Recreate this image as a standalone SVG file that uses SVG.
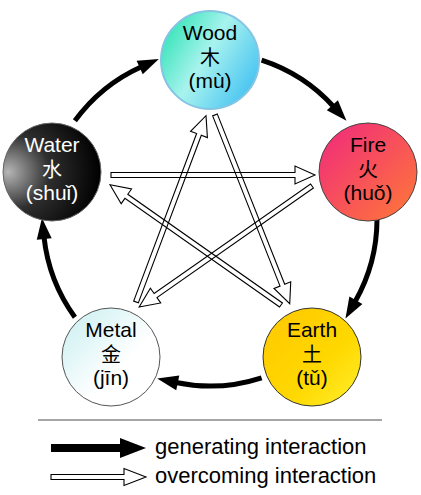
<svg xmlns="http://www.w3.org/2000/svg" width="421" height="495" viewBox="0 0 421 495">
<style>
.lbl{font-family:"Liberation Sans",Arial,"Noto Sans CJK SC",sans-serif;font-size:21px;text-anchor:middle;fill:#000}
.cjk{font-family:"Noto Sans CJK SC","Liberation Sans",sans-serif;font-size:20px;text-anchor:middle;fill:#000}
.wt{fill:#fff}
.gen{fill:none;stroke:#000;stroke-width:5;marker-end:url(#ah)}
.ovc{fill:none;stroke:#000;stroke-width:1.1;stroke-linejoin:miter}
.leg{font-family:"Liberation Sans",Arial,sans-serif;font-size:22px;fill:#000}
</style>
<defs>
<marker id="ah" markerUnits="userSpaceOnUse" markerWidth="21" markerHeight="15" viewBox="0 0 21 15" refX="2" refY="7.5" orient="auto" overflow="visible">
<path d="M0,0 L21,7.5 L0,15 z" fill="#000"/>
</marker>
<linearGradient id="gWood" x1="0" y1="0.2" x2="1" y2="0.8">
<stop offset="0" stop-color="#2fe3b5"/>
<stop offset="0.45" stop-color="#a8f3ee"/>
<stop offset="1" stop-color="#3fbff2"/>
</linearGradient>
<linearGradient id="gFire" x1="0" y1="0" x2="1" y2="1">
<stop offset="0" stop-color="#f0287e"/>
<stop offset="1" stop-color="#ff7a36"/>
</linearGradient>
<radialGradient id="gWater" cx="0.15" cy="0.5" r="0.85" fx="0.05" fy="0.5">
<stop offset="0" stop-color="#b5b5b5"/>
<stop offset="0.45" stop-color="#2e2e2e"/>
<stop offset="1" stop-color="#000"/>
</radialGradient>
<linearGradient id="gMetal" x1="0" y1="0" x2="1" y2="1">
<stop offset="0" stop-color="#c6eef0"/>
<stop offset="0.6" stop-color="#ffffff"/>
<stop offset="1" stop-color="#ffffff"/>
</linearGradient>
<linearGradient id="gEarth" x1="0" y1="0" x2="1" y2="1">
<stop offset="0" stop-color="#ffc800"/>
<stop offset="0.6" stop-color="#ffd800"/>
<stop offset="1" stop-color="#fff030"/>
</linearGradient>
</defs>

<g id="connectors">
<g id="generating">
<path class="gen" d="M261.6,60.2 A167,167 0 0 1 333.7,106.8"/>
<path class="gen" d="M377,219 A167,167 0 0 1 354.9,302"/>
<path class="gen" d="M261.6,377.8 A167,167 0 0 1 175.8,382.5"/>
<path class="gen" d="M74.9,317.2 A167,167 0 0 1 44,237"/>
<path class="gen" d="M74.9,120.8 A167,167 0 0 1 141.5,66.7"/>
</g>
<g id="overcoming">
<path class="ovc" transform="translate(111,175)" d="M0,-2.5 H184 V-9 L204,0 L184,9 V2.5 H0 Z"/>
<path class="ovc" transform="translate(312,186) rotate(145)" d="M0,-2.5 H191 V-9 L211,0 L191,9 V2.5 H0 Z"/>
<path class="ovc" transform="translate(136,302) rotate(-69.4)" d="M0,-2.5 H179 V-9 L199,0 L179,9 V2.5 H0 Z"/>
<path class="ovc" transform="translate(215,115) rotate(68.4)" d="M0,-2.5 H183 V-9 L203,0 L183,9 V2.5 H0 Z"/>
<path class="ovc" transform="translate(281,305) rotate(-144.9)" d="M0,-2.5 H189 V-9 L209,0 L189,9 V2.5 H0 Z"/>
</g>
</g>

<g id="wood">
<circle cx="210" cy="60" r="49" fill="url(#gWood)" stroke="#86c4e4" stroke-width="2"/>
<text class="lbl" x="210" y="40">Wood</text>
<text class="cjk" x="210" y="65">木</text>
<text class="lbl" x="210" y="88">(mù)</text>
</g>
<g id="fire">
<circle cx="368" cy="172" r="49" fill="url(#gFire)" stroke="#444" stroke-width="1"/>
<text class="lbl" x="368" y="152">Fire</text>
<text class="cjk" x="368" y="177">火</text>
<text class="lbl" x="368" y="200">(huǒ)</text>
</g>
<g id="earth">
<circle cx="312" cy="357" r="49" fill="url(#gEarth)" stroke="#333" stroke-width="1"/>
<text class="lbl" x="312" y="337">Earth</text>
<text class="cjk" x="312" y="362">土</text>
<text class="lbl" x="312" y="385">(tǔ)</text>
</g>
<g id="metal">
<circle cx="111" cy="357" r="49" fill="url(#gMetal)" stroke="#555" stroke-width="1"/>
<text class="lbl" x="111" y="337">Metal</text>
<text class="cjk" x="111" y="362">金</text>
<text class="lbl" x="111" y="385">(jīn)</text>
</g>
<g id="water">
<circle cx="52" cy="172" r="49" fill="url(#gWater)" stroke="#666" stroke-width="1"/>
<text class="lbl wt" x="52" y="152">Water</text>
<text class="cjk wt" x="52" y="177">水</text>
<text class="lbl wt" x="52" y="200">(shuǐ)</text>
</g>

<g id="legend">
<line x1="38" y1="420" x2="382" y2="420" stroke="#888" stroke-width="1.5"/>
<rect x="51" y="444" width="72" height="8" fill="#000"/>
<path d="M120,438 L146,448 L120,458 Z" fill="#000"/>
<path class="ovc" d="M51,474.5 H124 V468.5 L146,477 L124,485.5 V479.5 H51 Z"/>
<text class="leg" x="155" y="454">generating interaction</text>
<text class="leg" x="155" y="483">overcoming interaction</text>
</g>
</svg>
